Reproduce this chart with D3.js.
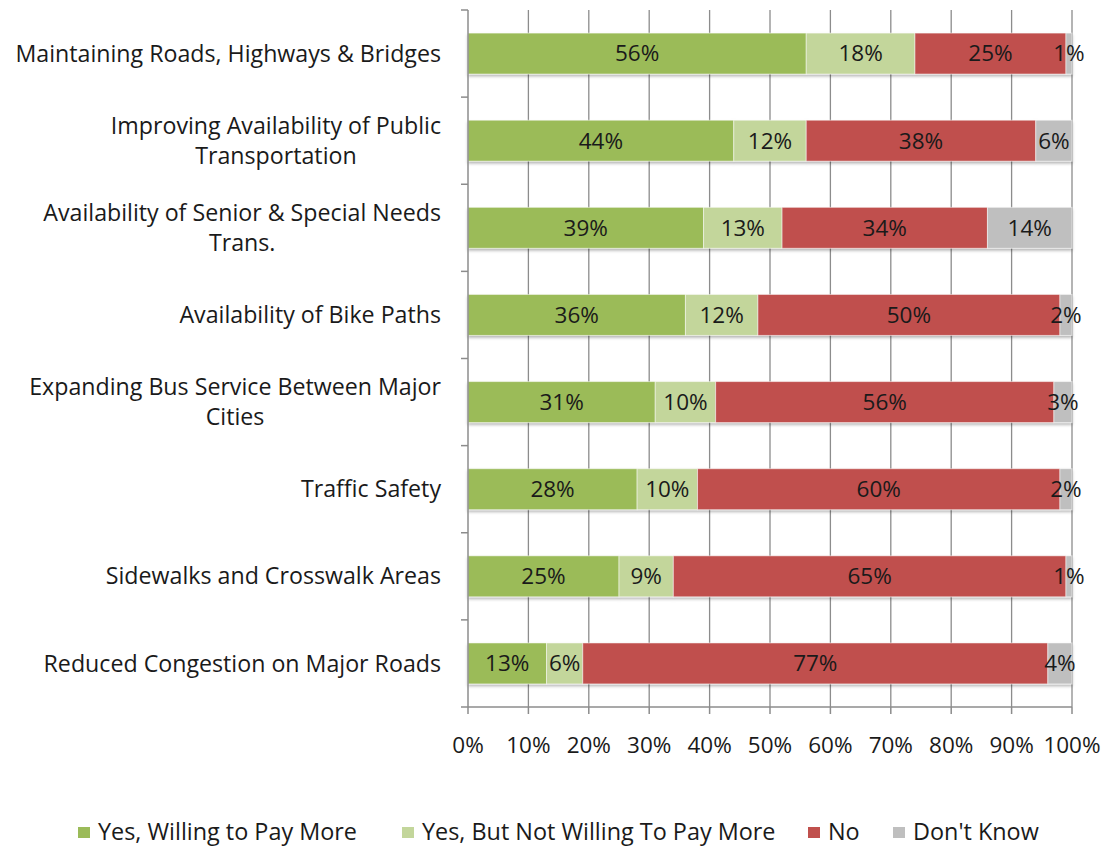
<!DOCTYPE html>
<html>
<head>
<meta charset="utf-8">
<script src="https://cdn.jsdelivr.net/npm/d3@7"></script>
<style>
  body { margin: 0; background: #fff; }
  text { font-family: "Open Sans", sans-serif; fill: #1a1a1a; }
</style>
</head>
<body>
<div id="chart"></div>
<script>
// categories, top to bottom
var categories = [
  ["Maintaining Roads, Highways & Bridges"],
  ["Improving Availability of Public", "Transportation"],
  ["Availability of Senior & Special Needs", "Trans."],
  ["Availability of Bike Paths"],
  ["Expanding Bus Service Between Major", "Cities"],
  ["Traffic Safety"],
  ["Sidewalks and Crosswalk Areas"],
  ["Reduced Congestion on Major Roads"]
];
var seriesNames = ["Yes, Willing to Pay More", "Yes, But Not Willing To Pay More", "No", "Don't Know"];
var yesPay   = [56, 44, 39, 36, 31, 28, 25, 13];
var yesNoPay = [18, 12, 13, 12, 10, 10, 9, 6];
var no       = [25, 38, 34, 50, 56, 60, 65, 77];
var dontKnow = [1, 6, 14, 2, 3, 2, 1, 4];
var xTicks = [0, 10, 20, 30, 40, 50, 60, 70, 80, 90, 100];
var colors = ["#9bbb59", "#c3d69b", "#c0504d", "#bfbfbf"];

var W = 1104, H = 846;
var margin = {top:10, right:32, bottom:139, left:468};
var w = W - margin.left - margin.right,
    h = H - margin.top - margin.bottom;
var fs = "22.5px";

var svg = d3.select("#chart").append("svg")
  .attr("width", W).attr("height", H);

var defs = svg.append("defs");
var f = defs.append("filter").attr("id", "shadow")
  .attr("x", "-5%").attr("y", "-20%").attr("width", "110%").attr("height", "160%");
f.append("feDropShadow").attr("dx", 0).attr("dy", 2).attr("stdDeviation", 1.5)
  .attr("flood-color", "#000").attr("flood-opacity", 0.3);

var g = svg.append("g").attr("transform", `translate(${margin.left},${margin.top})`);

var x = d3.scaleLinear().domain([0, 100]).range([0, w]);
var y = d3.scaleBand().domain(d3.range(categories.length)).range([0, h]).paddingInner(0.53).paddingOuter(0.265);
var yb = d3.scaleBand().domain(d3.range(categories.length)).range([0, h]);

// gridlines
g.append("g").selectAll("line").data(xTicks.slice(1)).enter().append("line")
  .attr("x1", d => x(d)).attr("x2", d => x(d))
  .attr("y1", 0).attr("y2", h)
  .attr("stroke", "#8c8c8c").attr("stroke-width", 1.3);

// stack data
var rows = categories.map(function(c, i) {
  return {i: i, vals: [yesPay[i], yesNoPay[i], no[i], dontKnow[i]]};
});
var stack = d3.stack().keys([0, 1, 2, 3]).value((d, k) => d.vals[k]);
var layers = stack(rows);

var barG = g.append("g").attr("filter", "url(#shadow)");
layers.forEach(function(layer, k) {
  barG.selectAll(".s" + k).data(layer).enter().append("rect")
    .attr("x", d => x(d[0]))
    .attr("y", d => y(d.data.i))
    .attr("width", d => x(d[1]) - x(d[0]))
    .attr("height", y.bandwidth())
    .attr("fill", colors[k])
    .attr("stroke", "#fff").attr("stroke-opacity", 0.5).attr("stroke-width", 1);
});
layers.forEach(function(layer, k) {
  g.selectAll(".l" + k).data(layer).enter().append("text")
    .attr("x", d => (x(d[0]) + x(d[1])) / 2)
    .attr("y", d => y(d.data.i) + y.bandwidth() / 2)
    .attr("dy", "0.35em")
    .attr("text-anchor", "middle")
    .style("font-size", fs)
    .text(d => d.data.vals[k] + "%");
});

// axes
var axisColor = "#8c8c8c";
g.append("line").attr("x1", 0).attr("x2", 0).attr("y1", 0).attr("y2", h)
  .attr("stroke", axisColor).attr("stroke-width", 1.5);
g.append("line").attr("x1", 0).attr("x2", w).attr("y1", h).attr("y2", h)
  .attr("stroke", axisColor).attr("stroke-width", 1.5);
g.append("g").selectAll("line").data(d3.range(categories.length + 1)).enter().append("line")
  .attr("x1", -7).attr("x2", 0)
  .attr("y1", d => d < categories.length ? yb(d) : h)
  .attr("y2", d => d < categories.length ? yb(d) : h)
  .attr("stroke", axisColor).attr("stroke-width", 1.5);
g.append("g").selectAll("line").data(xTicks).enter().append("line")
  .attr("x1", d => x(d)).attr("x2", d => x(d))
  .attr("y1", h).attr("y2", h + 7)
  .attr("stroke", axisColor).attr("stroke-width", 1.5);
g.append("g").selectAll("text").data(xTicks).enter().append("text")
  .attr("x", d => x(d)).attr("y", h + 38)
  .attr("dy", "0.35em")
  .attr("text-anchor", "middle")
  .style("font-size", fs)
  .text(d => d + "%");

// category labels, centred lines, block right-aligned to the axis
var labG = svg.append("g");
categories.forEach(function(lines, i) {
  var t = labG.append("text").attr("text-anchor", "middle").style("font-size", "23.2px");
  var cy = margin.top + yb(i) + yb.bandwidth() / 2;
  var lh = 30;
  var y0 = cy - (lines.length - 1) * lh / 2;
  lines.forEach(function(s, j) {
    t.append("tspan").attr("y", y0 + j * lh).attr("dy", "0.35em").text(s);
  });
  var maxW = 0;
  t.selectAll("tspan").each(function() { maxW = Math.max(maxW, this.getComputedTextLength()); });
  t.selectAll("tspan").attr("x", 441 - maxW / 2);
});

// legend
var legX = [78, 402, 808, 893];
var leg = svg.append("g").attr("transform", "translate(0,832)");
seriesNames.forEach(function(n, k) {
  leg.append("rect").attr("x", legX[k]).attr("y", -5).attr("width", 12).attr("height", 11).attr("fill", colors[k]);
  leg.append("text").attr("x", legX[k] + 20).attr("dy", "0.35em").style("font-size", "23.4px").text(n);
});
</script>
</body>
</html>
